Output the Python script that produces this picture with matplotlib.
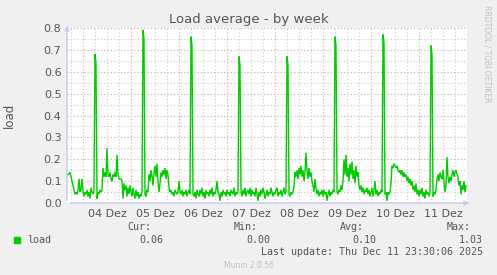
import numpy as np
import matplotlib
matplotlib.use("Agg")
import matplotlib.pyplot as plt

# load average, one sample per 30 min, Dec 3 16:00 .. Dec 11 23:30
dec3 = [0.13, 0.13, 0.135, 0.14, 0.12, 0.10, 0.08, 0.06, 0.04, 0.05, 0.04, 0.06,
        0.11, 0.05, 0.06, 0.11]
dec4 = [0.05, 0.03, 0.05, 0.04, 0.06, 0.03, 0.05, 0.02, 0.07, 0.05, 0.04, 0.06,
        0.68, 0.64, 0.02, 0.05, 0.04, 0.06, 0.05, 0.06, 0.16, 0.12, 0.14, 0.12,
        0.25, 0.13, 0.12, 0.14, 0.11, 0.10, 0.13, 0.12, 0.14, 0.12, 0.22, 0.13,
        0.11, 0.11, 0.11, 0.10, 0.02, 0.09, 0.06, 0.08, 0.03, 0.07, 0.04, 0.08]
dec5 = [0.05, 0.03, 0.07, 0.04, 0.02, 0.06, 0.03, 0.05, 0.02, 0.04, 0.03, 0.05,
        0.79, 0.75, 0.04, 0.03, 0.06, 0.05, 0.13, 0.10, 0.15, 0.12, 0.08, 0.14,
        0.17, 0.12, 0.18, 0.10, 0.05, 0.09, 0.14, 0.12, 0.15, 0.13, 0.16, 0.11,
        0.15, 0.13, 0.07, 0.05, 0.06, 0.04, 0.05, 0.03, 0.06, 0.05, 0.04, 0.05]
dec6 = [0.10, 0.05, 0.04, 0.06, 0.03, 0.05, 0.04, 0.06, 0.03, 0.05, 0.06, 0.04,
        0.76, 0.72, 0.04, 0.03, 0.05, 0.02, 0.06, 0.04, 0.03, 0.06, 0.04, 0.07,
        0.03, 0.05, 0.02, 0.06, 0.04, 0.05, 0.03, 0.06, 0.04, 0.07, 0.03, 0.05,
        0.04, 0.06, 0.10, 0.05, 0.04, 0.01, 0.05, 0.03, 0.06, 0.04, 0.05, 0.03]
dec7 = [0.06, 0.04, 0.05, 0.03, 0.06, 0.05, 0.04, 0.07, 0.03, 0.05, 0.04, 0.05,
        0.67, 0.63, 0.05, 0.03, 0.06, 0.04, 0.07, 0.03, 0.05, 0.06, 0.04, 0.07,
        0.03, 0.06, 0.04, 0.05, 0.03, 0.07, 0.04, 0.01, 0.05, 0.03, 0.06, 0.04,
        0.07, 0.05, 0.02, 0.04, 0.06, 0.03, 0.05, 0.04, 0.07, 0.05, 0.03, 0.05]
dec8 = [0.04, 0.06, 0.07, 0.03, 0.05, 0.04, 0.06, 0.03, 0.05, 0.07, 0.04, 0.05,
        0.67, 0.63, 0.04, 0.03, 0.05, 0.04, 0.05, 0.08, 0.14, 0.12, 0.15, 0.11,
        0.16, 0.13, 0.17, 0.12, 0.15, 0.10, 0.14, 0.23, 0.15, 0.11, 0.16, 0.12,
        0.14, 0.10, 0.08, 0.05, 0.11, 0.07, 0.04, 0.06, 0.03, 0.05, 0.04, 0.06]
dec9 = [0.03, 0.06, 0.04, 0.05, 0.01, 0.04, 0.06, 0.03, 0.05, 0.04, 0.06, 0.05,
        0.76, 0.72, 0.05, 0.04, 0.06, 0.05, 0.08, 0.06, 0.10, 0.20, 0.13, 0.22,
        0.12, 0.16, 0.10, 0.18, 0.13, 0.19, 0.11, 0.15, 0.09, 0.17, 0.12, 0.14,
        0.08, 0.06, 0.08, 0.05, 0.07, 0.04, 0.06, 0.05, 0.07, 0.04, 0.06, 0.03]
dec10 = [0.05, 0.07, 0.03, 0.06, 0.10, 0.04, 0.06, 0.03, 0.05, 0.04, 0.06, 0.05,
         0.77, 0.73, 0.04, 0.05, 0.01, 0.05, 0.04, 0.05, 0.09, 0.17, 0.16, 0.18,
         0.17, 0.16, 0.17, 0.15, 0.14, 0.15, 0.13, 0.15, 0.12, 0.14, 0.12, 0.13,
         0.10, 0.12, 0.09, 0.11, 0.08, 0.10, 0.06, 0.08, 0.05, 0.09, 0.04, 0.06]
dec11 = [0.03, 0.06, 0.04, 0.07, 0.03, 0.05, 0.02, 0.06, 0.04, 0.05, 0.03, 0.05,
         0.72, 0.68, 0.03, 0.05, 0.04, 0.06, 0.11, 0.13, 0.10, 0.14, 0.12, 0.11,
         0.15, 0.10, 0.05, 0.08, 0.21, 0.12, 0.09, 0.12, 0.10, 0.13, 0.15, 0.12,
         0.14, 0.15, 0.13, 0.12, 0.08, 0.10, 0.04, 0.08, 0.06, 0.10, 0.05, 0.08]

day_labels = ["04 Dez", "05 Dez", "06 Dez", "07 Dez", "08 Dez", "09 Dez", "10 Dez", "11 Dez"]
y_ticks = [0.0, 0.1, 0.2, 0.3, 0.4, 0.5, 0.6, 0.7, 0.8]

cur, vmin, avg, vmax = "0.06", "0.00", "0.10", "1.03"
last_update = "Last update: Thu Dec 11 23:30:06 2025"

load = np.array(dec3 + dec4 + dec5 + dec6 + dec7 + dec8 + dec9 + dec10 + dec11)
hours = -8 + 0.5 * np.arange(len(load))   # hours since Dec 4 00:00

BG = "#F0F0F0"
TXT = "#555555"
GREEN = "#00CC00"

fig = plt.figure(figsize=(4.97, 2.75), dpi=100, facecolor=BG)
ax = fig.add_axes([67 / 497, 72 / 275, 400 / 497, 175 / 275])
ax.set_facecolor("white")
ax.set_xlim(-8, 192)
ax.set_ylim(0, 0.8)

# grid, rrdtool style
dot = (0, (1, 2))
for y in np.arange(0.05, 0.8, 0.1):
    ax.axhline(y, color="#C8C8C8", lw=0.8, ls=dot, zorder=1)
for y in np.arange(0.1, 0.81, 0.1):
    ax.axhline(y, color="#E0A0A0", lw=0.8, ls=dot, zorder=1)
for h in range(-6, 192, 6):
    if h % 24:
        ax.axvline(h, color="#C8C8C8", lw=0.8, ls=dot, zorder=1)
for h in range(0, 193, 24):
    ax.axvline(h, color="#E0A0A0", lw=0.8, ls=dot, zorder=1)

ax.plot(hours, load, color=GREEN, lw=1.0, zorder=3, solid_joinstyle="miter")

for s in ax.spines.values():
    s.set_visible(False)
ax.tick_params(length=0, labelsize=8, colors=TXT, pad=4)
ax.set_yticks(y_ticks)
ax.set_yticklabels([f"{v:.1f}" for v in y_ticks])
ax.set_xticks([12 + 24 * k for k in range(len(day_labels))])
ax.set_xticklabels(day_labels)
ax.set_ylabel("load", color=TXT, fontsize=8.5, labelpad=20)

# axis lines with arrows
ax.annotate("", xy=(1.013, 0), xytext=(0, 0), xycoords="axes fraction",
            arrowprops=dict(arrowstyle="-|>", color="#C8C8F0", lw=1, mutation_scale=7),
            annotation_clip=False)
ax.annotate("", xy=(0, 1.03), xytext=(0, 0), xycoords="axes fraction",
            arrowprops=dict(arrowstyle="-|>", color="#C8C8F0", lw=1, mutation_scale=7),
            annotation_clip=False)

fig.text(0.5, 1 - 20 / 275, "Load average - by week", ha="center", va="center",
         fontsize=9.5, color=TXT)
fig.text(487 / 497, 1 - 5 / 275, "RRDTOOL / TOBI OETIKER", rotation=-90,
         ha="center", va="top", fontsize=5.5, color="#C0C0C0")

mono = "DejaVu Sans Mono"
fs = 7.2
fig.patches.append(plt.Rectangle((14 / 497, 1 - 243 / 275), 6 / 497, 6 / 275,
                                 transform=fig.transFigure, color=GREEN))
fig.text(27 / 497, 1 - 240 / 275, "load", family=mono, fontsize=fs, color=TXT, va="center")
cols = [(163, "Cur:", cur), (270, "Min:", vmin), (376, "Avg:", avg), (483, "Max:", vmax)]
for xr, head, val in cols:
    fig.text((xr - 12) / 497, 1 - 227 / 275, head, family=mono, fontsize=fs, color=TXT,
             ha="right", va="center")
    fig.text(xr / 497, 1 - 240 / 275, val, family=mono, fontsize=fs, color=TXT,
             ha="right", va="center")
fig.text(483 / 497, 1 - 252 / 275, last_update, family=mono, fontsize=fs, color=TXT,
         ha="right", va="center")
fig.text(0.5, 1 - 265 / 275, "Munin 2.0.56", ha="center", va="center",
         fontsize=5.5, color="#C0C0C0")

fig.savefig("out.png", dpi=100, facecolor=BG)
